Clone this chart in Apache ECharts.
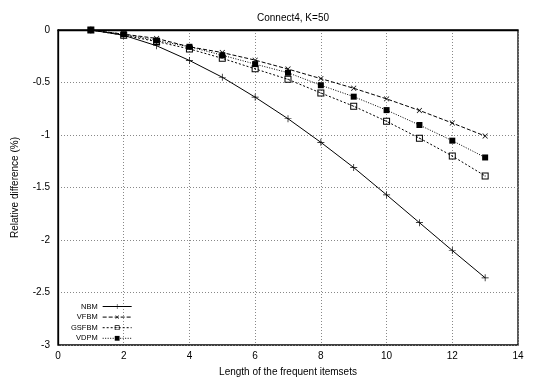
<!DOCTYPE html>
<html>
<head>
<meta charset="utf-8">
<script src="https://cdn.jsdelivr.net/npm/echarts@6/dist/echarts.min.js"></script>
<style>
  html, body { margin: 0; padding: 0; background: #fff; }
  #chart { width: 540px; height: 382px; }
</style>
</head>
<body>
<div id="chart"></div>
<script>
// itemset lengths
const lengths = [1, 2, 3, 4, 5, 6, 7, 8, 9, 10, 11, 12, 13];
// relative difference (%) per method
const nbm = [0, -0.05, -0.15, -0.29, -0.45, -0.64, -0.845, -1.07, -1.31, -1.57, -1.835, -2.10, -2.36];
const vfbm = [0, -0.04, -0.08, -0.16, -0.215, -0.287, -0.372, -0.463, -0.555, -0.656, -0.766, -0.886, -1.01];
const gsfbm = [0, -0.05, -0.11, -0.18, -0.27, -0.37, -0.47, -0.60, -0.726, -0.87, -1.03, -1.20, -1.39];
const vdpm = [0, -0.04, -0.10, -0.16, -0.24, -0.325, -0.407, -0.526, -0.635, -0.763, -0.905, -1.054, -1.214];
const seriesNames = ["NBM", "VFBM", "GSFBM", "VDPM"];

const plus = "path://M4.5,0h1v4.5h4.5v1h-4.5v4.5h-1v-4.5h-4.5v-1h4.5z";
// open square with a dot in the middle
const openSquare = "path://M0,0h14v14h-14z M2,2v10h10v-10z M6,6h2v2h-2z";
const font = "Liberation Sans, Arial, sans-serif";

function pairs(vals) {
  return lengths.map((x, i) => [x, vals[i]]);
}

function line(name, vals, symbol, type, extra) {
  return Object.assign({
    name: name,
    type: "line",
    data: pairs(vals),
    symbol: symbol,
    symbolSize: 7,
    color: "#000",
    lineStyle: { color: "#000", width: 1, type: type },
    itemStyle: { color: "#000" },
    animation: false,
  }, extra || {});
}

let chart = echarts.init(document.getElementById("chart"));
let option = {
  backgroundColor: "#fff",
  textStyle: { fontFamily: font },
  title: {
    text: "Connect4, K=50",
    left: 288,
    textAlign: "center",
    top: 8,
    textStyle: { fontSize: 10, fontWeight: "normal", color: "#000", fontFamily: font },
  },
  grid: {
    left: 58,
    right: 22,
    top: 30,
    bottom: 35,
    show: true,
    borderColor: "#000",
    borderWidth: 1.3,
  },
  legend: {
    orient: "vertical",
    left: 66,
    top: 297,
    align: "right",
    itemWidth: 29,
    itemHeight: 6,
    itemGap: 1.6,
    data: seriesNames,
    lineStyle: { width: 1 },
    itemStyle: { borderWidth: 0 },
    textStyle: { fontSize: 7.5, color: "#000", fontFamily: font, lineHeight: 9 },
  },
  xAxis: {
    type: "value",
    min: 0,
    max: 14,
    interval: 2,
    name: "Length of the frequent itemsets",
    nameLocation: "middle",
    nameGap: 22,
    nameTextStyle: { fontSize: 10, color: "#000" },
    axisLine: { lineStyle: { color: "#000", width: 1.3 } },
    axisTick: { show: false },
    axisLabel: { fontSize: 10, color: "#000", margin: 6 },
    splitLine: { show: true, lineStyle: { color: "#888", type: [1, 2] } },
  },
  yAxis: {
    type: "value",
    min: -3,
    max: 0,
    interval: 0.5,
    name: "Relative difference (%)",
    nameLocation: "middle",
    nameGap: 38,
    nameTextStyle: { fontSize: 10, color: "#000" },
    axisLine: { show: true, lineStyle: { color: "#000", width: 1.3 } },
    axisTick: { show: false },
    axisLabel: { fontSize: 10, color: "#000", margin: 8 },
    splitLine: { show: true, lineStyle: { color: "#888", type: [1, 2] } },
  },
  series: [
    line("NBM", nbm, plus, "solid"),
    line("VFBM", vfbm, plus, [4, 2], { symbolRotate: 45 }),
    line("GSFBM", gsfbm, openSquare, [2, 2]),
    line("VDPM", vdpm, "rect", [1, 1.5], { symbolSize: 6 }),
  ],
};
chart.setOption(option);
</script>
</body>
</html>
